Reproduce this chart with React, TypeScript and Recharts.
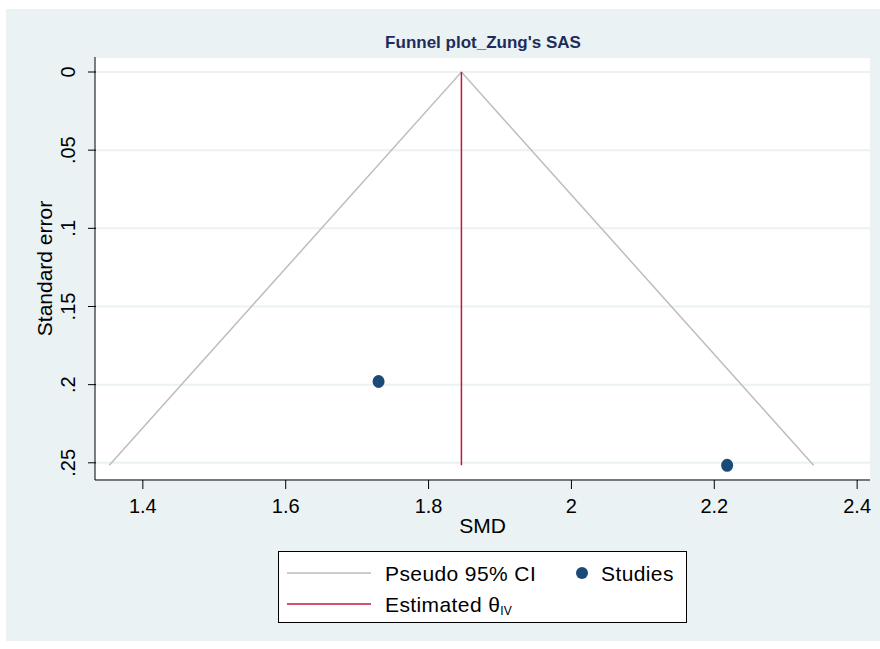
import { ComposedChart, Scatter, XAxis, YAxis, CartesianGrid, Legend } from "recharts";

const theta = 1.846;
const maxSe = 0.2516;

const funnelPoints = [
  { smd: 1.353, se: 0.2516 },
  { smd: 1.846, se: 0 },
  { smd: 2.339, se: 0.2516 },
];
const thetaLine = [
  { smd: theta, se: 0 },
  { smd: theta, se: maxSe },
];
const studies = [
  { smd: 1.73, se: 0.198 },
  { smd: 2.218, se: 0.2516 },
];
const xTicks = [1.4, 1.6, 1.8, 2, 2.2, 2.4];
const yTicks = [0, 0.05, 0.1, 0.15, 0.2, 0.25];

const FONT = "'Liberation Sans', Arial, sans-serif";
const BG = "#EAF2F3";

const fmtY = (v: number) => (v === 0 ? "0" : String(v).replace(/^0/, ""));

function YTick({ x, y, payload }: any) {
  return (
    <g>
      <line x1={x + 1} x2={x + 9} y1={y} y2={y} stroke="#000" />
      <text
        x={x - 12}
        y={y}
        transform={`rotate(-90, ${x - 12}, ${y})`}
        textAnchor="middle"
        fontSize={20}
        fontFamily={FONT}
        fill="#000"
      >
        {fmtY(payload.value)}
      </text>
    </g>
  );
}

function XTick({ x, y, payload }: any) {
  return (
    <text x={x} y={y + 22} textAnchor="middle" fontSize={20} fontFamily={FONT} fill="#000">
      {payload.value}
    </text>
  );
}

function YTitle({ viewBox }: any) {
  const cx = 44;
  const cy = viewBox.y + viewBox.height / 2;
  return (
    <text
      x={cx}
      y={cy}
      transform={`rotate(-90, ${cx}, ${cy})`}
      textAnchor="middle"
      dominantBaseline="central"
      fontSize={21}
      fontFamily={FONT}
      fill="#000"
    >
      Standard error
    </text>
  );
}

function LegendBox() {
  return (
    <div
      style={{
        width: 407,
        height: 70,
        background: "#fff",
        border: "1px solid #000",
        position: "relative",
      }}
    >
      <svg width={407} height={70} style={{ position: "absolute", left: 0, top: 0 }}>
        <line x1={8} x2={92} y1={21} y2={21} stroke="#BDBDBD" strokeWidth={1.5} />
        <line x1={8} x2={92} y1={52} y2={52} stroke="#C8143C" strokeWidth={1.5} />
        <circle cx={303} cy={21} r={6} fill="#1B4A78" />
        <text x={106} y={29} fontSize={21} fontFamily={FONT} letterSpacing={0.4}>Pseudo 95% CI</text>
        <text x={322} y={29} fontSize={21} fontFamily={FONT} letterSpacing={0.4}>Studies</text>
        <text x={106} y={60} fontSize={21} fontFamily={FONT} letterSpacing={0.4}>
          Estimated θ<tspan fontSize={12} dy={3} letterSpacing={0}>IV</tspan>
        </text>
      </svg>
    </div>
  );
}

export default function App() {
  return (
    <div style={{ position: "absolute", left: 0, top: 0, width: 880, height: 649, background: "#fff" }}>
      <div style={{ position: "absolute", left: 6, top: 9, width: 874, height: 632, background: BG }} />
      <div
        style={{
          position: "absolute",
          left: 0,
          width: 966,
          top: 33,
          textAlign: "center",
          fontFamily: FONT,
          fontWeight: "bold",
          fontSize: 17,
          color: "#1E2C5C",
        }}
      >
        Funnel plot_Zung's SAS
      </div>
      <div style={{ position: "absolute", left: 0, top: 0 }}>
        <ComposedChart
          width={880}
          height={649}
          margin={{ top: 57, right: 10, bottom: 57, left: 55 }}
        >
          <CartesianGrid
            horizontal
            vertical={false}
            fill="#fff"
            stroke={BG}
            strokeWidth={2}
          />
          <XAxis
            dataKey="smd"
            type="number"
            domain={[1.333, 2.418]}
            ticks={xTicks}
            allowDataOverflow
            height={40}
            stroke="#000"
            tickSize={9}
            tick={<XTick />}
            label={{ value: "SMD", position: "insideBottom", offset: -13, fontSize: 21, fontFamily: FONT, fill: "#000" }}
          />
          <YAxis
            dataKey="se"
            type="number"
            reversed
            domain={[-0.0096, 0.261]}
            ticks={yTicks}
            allowDataOverflow
            width={40}
            stroke="#000"
            tickLine={false}
            tick={<YTick />}
            label={<YTitle />}
          />
          <Scatter
            data={funnelPoints}
            line={{ stroke: "#BDBDBD", strokeWidth: 1.5 }}
            shape={() => null}
            isAnimationActive={false}
          />
          <Scatter
            data={thetaLine}
            line={{ stroke: "#C8143C", strokeWidth: 1.5 }}
            shape={() => null}
            isAnimationActive={false}
          />
          <Scatter
            data={studies}
            fill="#1B4A78"
            isAnimationActive={false}
            shape={(p: any) => <ellipse cx={p.cx} cy={p.cy} rx={6} ry={6.5} fill="#1B4A78" />}
          />
          <Legend
            content={<LegendBox />}
            wrapperStyle={{ position: "absolute", left: 278, top: 551, width: 409, bottom: "auto" }}
          />
        </ComposedChart>
      </div>
    </div>
  );
}
